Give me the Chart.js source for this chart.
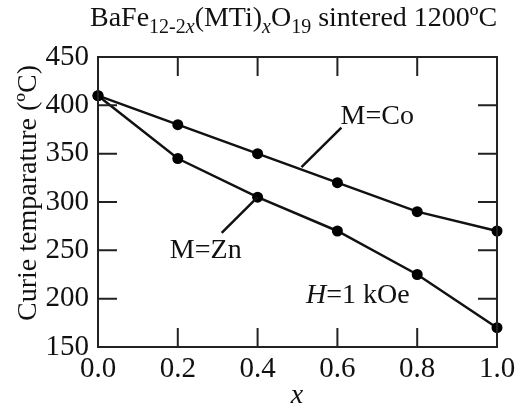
<!DOCTYPE html>
<html>
<head>
<meta charset="utf-8">
<script src="https://cdn.jsdelivr.net/npm/chart.js@4/dist/chart.umd.min.js"></script>
<style>
  html, body { margin: 0; padding: 0; background: #fff; }
  #wrap { width: 525px; height: 405px; }
</style>
</head>
<body>
<div id="wrap"><canvas id="myChart" width="525" height="405"></canvas></div>
<script>
// composition x
let xValues = [0.0, 0.2, 0.4, 0.6, 0.8, 1.0];
// Curie temperature (ºC)
let coValues = [410, 380, 350, 320, 290, 270];
let znValues = [410, 345, 305, 270, 225, 170];
let xTicks = [0.0, 0.2, 0.4, 0.6, 0.8, 1.0];
let yTicks = [150, 200, 250, 300, 350, 400, 450];

const SERIF = '"Liberation Serif", "DejaVu Serif", serif';

let coPoints = xValues.map((x, i) => ({ x: x, y: coValues[i] }));
let znPoints = xValues.map((x, i) => ({ x: x, y: znValues[i] }));

// title pieces : text, subscript?, italic?
let titleParts = [
  ['BaFe', false, false],
  ['12-2', true, false],
  ['x', true, true],
  ['(MTi)', false, false],
  ['x', true, true],
  ['O', false, false],
  ['19', true, false],
  [' sintered 1200ºC', false, false]
];

// labels drawn in data coordinates
let notes = [
  { text: 'M=Co', x: 0.7, y: 388, from: [0.51, 336], to: [0.61, 377] },
  { text: 'M=Zn', x: 0.27, y: 250, from: [0.4, 305], to: [0.31, 268] }
];

const decor = {
  id: 'decor',
  afterDraw(chart) {
    let ctx = chart.ctx;
    let sx = chart.scales.x, sy = chart.scales.y;
    let a = chart.chartArea;
    ctx.save();
    ctx.strokeStyle = '#222';
    ctx.lineWidth = 2;
    // inward ticks on four sides
    let len = 19;
    ctx.beginPath();
    xTicks.forEach(v => {
      let px = sx.getPixelForValue(v);
      ctx.moveTo(px, a.bottom); ctx.lineTo(px, a.bottom - len);
      ctx.moveTo(px, a.top); ctx.lineTo(px, a.top + len);
    });
    yTicks.forEach(v => {
      let py = sy.getPixelForValue(v);
      ctx.moveTo(a.left, py); ctx.lineTo(a.left + len, py);
      ctx.moveTo(a.right, py); ctx.lineTo(a.right - len, py);
    });
    ctx.stroke();

    // leader lines + labels
    ctx.lineWidth = 2.5;
    ctx.strokeStyle = '#111';
    ctx.fillStyle = '#111';
    ctx.font = '28px ' + SERIF;
    ctx.textAlign = 'center';
    ctx.textBaseline = 'middle';
    notes.forEach(n => {
      ctx.beginPath();
      ctx.moveTo(sx.getPixelForValue(n.from[0]), sy.getPixelForValue(n.from[1]));
      ctx.lineTo(sx.getPixelForValue(n.to[0]), sy.getPixelForValue(n.to[1]));
      ctx.stroke();
      ctx.fillText(n.text, sx.getPixelForValue(n.x), sy.getPixelForValue(n.y));
    });

    // H=1 kOe
    ctx.textAlign = 'left';
    ctx.textBaseline = 'alphabetic';
    let hx = 306, hy = 303;
    ctx.font = 'italic 28px ' + SERIF;
    ctx.fillText('H', hx, hy);
    hx += ctx.measureText('H').width;
    ctx.font = '28px ' + SERIF;
    ctx.fillText('=1 kOe', hx, hy);

    // title with subscripts
    let tx = 90, ty = 26;
    titleParts.forEach(p => {
      let size = p[1] ? 20 : 28;
      ctx.font = (p[2] ? 'italic ' : '') + size + 'px ' + SERIF;
      ctx.fillText(p[0], tx, p[1] ? ty + 7 : ty);
      tx += ctx.measureText(p[0]).width;
    });

    // axis titles
    ctx.font = 'italic 28px ' + SERIF;
    ctx.textAlign = 'center';
    ctx.fillText('x', 297, 403);
    ctx.save();
    ctx.translate(36, 193);
    ctx.rotate(-Math.PI / 2);
    ctx.font = '28px ' + SERIF;
    ctx.fillText('Curie temparature (ºC)', 0, 0);
    ctx.restore();

    ctx.restore();
  }
};

let ctx = document.getElementById('myChart').getContext('2d');
new Chart(ctx, {
  type: 'line',
  data: {
    datasets: [
      {
        label: 'M=Co',
        data: coPoints,
        borderColor: '#111',
        backgroundColor: '#111',
        borderWidth: 2.5,
        pointRadius: 5.5,
        pointBackgroundColor: '#000',
        pointBorderWidth: 0,
        tension: 0,
        clip: false
      },
      {
        label: 'M=Zn',
        data: znPoints,
        borderColor: '#111',
        backgroundColor: '#111',
        borderWidth: 2.5,
        pointRadius: 5.5,
        pointBackgroundColor: '#000',
        pointBorderWidth: 0,
        tension: 0,
        clip: false
      }
    ]
  },
  options: {
    responsive: false,
    animation: false,
    layout: { padding: { top: 57, right: 28, left: 0, bottom: 0 } },
    plugins: {
      legend: { display: false },
      title: { display: false },
      tooltip: { enabled: false }
    },
    scales: {
      x: {
        type: 'linear',
        min: 0,
        max: 1,
        afterBuildTicks: (s) => { s.ticks = xTicks.map(v => ({ value: v })); },
        afterFit: (s) => { s.height = 58; },
        grid: { display: false, drawTicks: false },
        border: { display: true, color: '#222', width: 2 },
        ticks: {
          color: '#111',
          padding: 5,
          maxRotation: 0,
          font: { family: SERIF, size: 29 },
          callback: (v) => v.toFixed(1)
        }
      },
      y: {
        min: 150,
        max: 450,
        afterBuildTicks: (s) => { s.ticks = yTicks.map(v => ({ value: v })); },
        afterFit: (s) => { s.width = 98; },
        grid: { display: false, drawTicks: false },
        border: { display: true, color: '#222', width: 2 },
        ticks: {
          color: '#111',
          padding: 9,
          font: { family: SERIF, size: 29 }
        }
      }
    }
  },
  plugins: [decor, {
    id: 'frame',
    afterDraw(chart) {
      let c = chart.ctx, a = chart.chartArea;
      c.save();
      c.strokeStyle = '#222';
      c.lineWidth = 2;
      c.strokeRect(a.left, a.top, a.right - a.left, a.bottom - a.top);
      c.restore();
    }
  }]
});
</script>
</body>
</html>
